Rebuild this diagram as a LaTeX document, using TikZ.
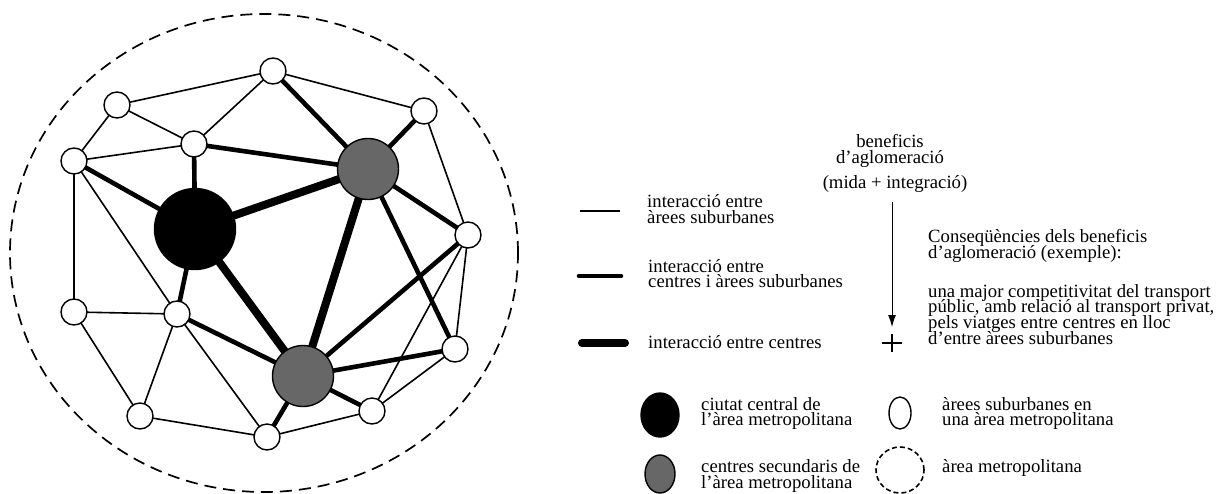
\documentclass[tikz,border=0pt]{standalone}
\usepackage{fontspec}
\setmainfont{Liberation Serif}
\usetikzlibrary{arrows.meta,backgrounds}

\tikzset{
  txt/.style={font=\fontsize{18.7}{15.5}\selectfont,inner sep=0pt,anchor=base west},
  ctxt/.style={font=\fontsize{18.7}{15.5}\selectfont,inner sep=0pt,anchor=base},
  sub/.style={circle,draw,line width=1.4pt,fill=white,minimum size=26pt,inner sep=0pt},
  central/.style={circle,draw,line width=1.4pt,fill=black,minimum size=81pt,inner sep=0pt},
  secondary/.style={circle,draw,line width=1.4pt,fill=gray55,minimum size=61pt,inner sep=0pt},
  thinlink/.style={line width=1.6pt},
  midlink/.style={line width=4.6pt},
  thicklink/.style={line width=8pt},
  metro/.style={line width=1.7pt,dash pattern=on 12pt off 7pt},
}
\definecolor{gray55}{HTML}{676767}

\begin{document}
\begin{tikzpicture}[x=1pt,y=-1pt]
\useasboundingbox (0,0) rectangle (1222,493);

% metropolitan area boundary
\draw[metro] (264,253) ellipse [x radius=254pt, y radius=239pt];

% suburban areas
\node[sub] (T)   at (273,71)  {};
\node[sub] (TL)  at (117,105) {};
\node[sub] (TR)  at (424,111) {};
\node[sub] (A)   at (194,144) {};
\node[sub] (L)   at (74,161)  {};
\node[sub] (R)   at (468,235) {};
\node[sub] (LL)  at (74,312)  {};
\node[sub] (B)   at (177,314) {};
\node[sub] (BR)  at (455,349) {};
\node[sub] (BL)  at (140,416) {};
\node[sub] (BB)  at (267,437) {};
\node[sub] (BRR) at (372,411) {};
% centres
\node[central]   (C)  at (195,229) {};
\node[secondary] (S1) at (368,169) {};
\node[secondary] (S2) at (303,376) {};

\begin{scope}[on background layer]
  % suburban -- suburban
  \foreach \a/\b in {TL/T, T/TR, T/A, TL/A, TL/L, A/L, L/LL, L/B, LL/B, LL/BL,
                     BL/B, B/BB, BL/BB, BB/BRR, BRR/BR, R/BRR, R/BR, TR/R}
    \draw[thinlink] (\a.center) -- (\b.center);
  % centre -- suburban
  \foreach \a/\b in {T/S1, TR/S1, A/S1, A/C, L/C, B/C, B/S2, R/S1, BR/S1,
                     R/S2, BR/S2, BRR/S2, BB/S2}
    \draw[midlink] (\a.center) -- (\b.center);
  % centre -- centre
  \foreach \a/\b in {C/S1, C/S2, S1/S2}
    \draw[thicklink] (\a.center) -- (\b.center);
\end{scope}

% line legend
\coordinate (l1a) at (580,211); \coordinate (l1b) at (620,211);
\coordinate (l2a) at (579,276); \coordinate (l2b) at (621,276);
\coordinate (l3a) at (582,343); \coordinate (l3b) at (625,343);
\draw[line width=1.3pt] (l1a) -- (l1b);
\draw[midlink,line cap=round] (l2a) -- (l2b);
\draw[line width=8pt,line cap=round] (l3a) -- (l3b);
\node[txt] (t1a) at (647,207) {interacció entre};
\node[txt] (t1b) at (647,223) {àrees suburbanes};
\node[txt] (t2a) at (648,272) {interacció entre};
\node[txt] (t2b) at (648,287) {centres i àrees suburbanes};
\node[txt] (t3)  at (648,348) {interacció entre centres};

% agglomeration benefits
\node[ctxt] (bena) at (890,147) {beneficis};
\node[ctxt] (benb) at (890,163) {d’aglomeració};
\node[ctxt] (mida) at (895,188) {(mida + integració)};
\coordinate (arrS) at (892,202);
\coordinate (arrE) at (892,327);
\draw[line width=1pt,-{Latex[length=12pt,width=8pt]}] (arrS) -- (arrE);
\coordinate (plus) at (892,343);
\draw[line width=1.4pt] ([xshift=-10pt]plus) -- ([xshift=10pt]plus)
                        ([yshift=-9pt]plus) -- ([yshift=9pt]plus);
\node[txt] (consa) at (928,242) {Conseqüències dels beneficis};
\node[txt] (consb) at (928,258) {d’aglomeració (exemple):};
\node[txt] (exa) at (928,297) {una major competitivitat del transport};
\node[txt] (exb) at (928,312) {públic, amb relació al transport privat,};
\node[txt] (exc) at (928,328) {pels viatges entre centres en lloc};
\node[txt] (exd) at (928,344) {d’entre àrees suburbanes};

% symbol legend
\draw[line width=1.4pt,fill=black] (660,415) ellipse [x radius=19pt, y radius=22pt];
\draw[line width=1.4pt,fill=gray55] (660,474) ellipse [x radius=15pt, y radius=19pt];
\draw[line width=1.4pt,fill=white] (900,413) ellipse [x radius=11pt, y radius=16pt];
\draw[line width=1.6pt,dash pattern=on 5pt off 3pt] (900,470) ellipse [x radius=24pt, y radius=23pt];
\node[txt] (k1a) at (701,410) {ciutat central de};
\node[txt] (k1b) at (701,425) {l’àrea metropolitana};
\node[txt] (k2a) at (701,472) {centres secundaris de};
\node[txt] (k2b) at (701,488) {l’àrea metropolitana};
\node[txt] (k3a) at (942,410) {àrees suburbanes en};
\node[txt] (k3b) at (942,425) {una àrea metropolitana};
\node[txt] (k4)  at (942,472) {àrea metropolitana};
\end{tikzpicture}
\end{document}
